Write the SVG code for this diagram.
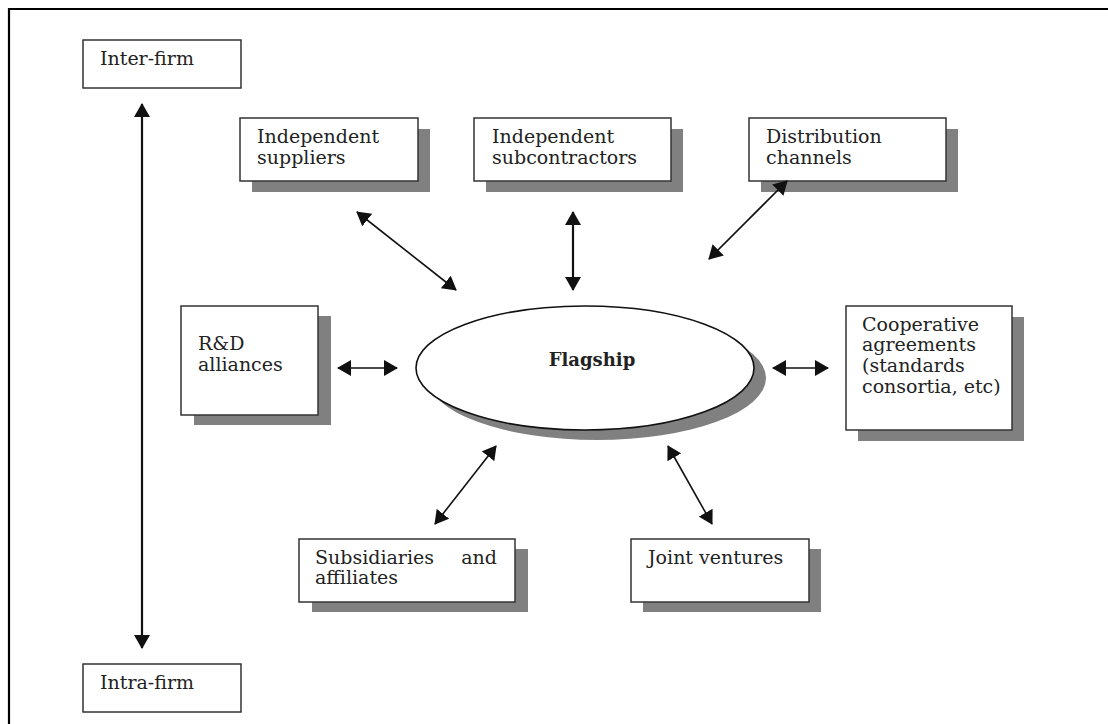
<svg xmlns="http://www.w3.org/2000/svg" width="1108" height="724" viewBox="0 0 1108 724">
<style>
.box{fill:#fff;stroke:#333;stroke-width:1.5}
.sh{fill:#808080}
.t{font-family:"DejaVu Serif","Liberation Serif",serif;font-size:19px;fill:#222}
.b{font-family:"DejaVu Serif","Liberation Serif",serif;font-size:18px;font-weight:bold;fill:#222}
.c{stroke:#111;stroke-width:1.6;fill:none;marker-start:url(#ah);marker-end:url(#ah)}
.cv{stroke:#111;stroke-width:2.2;fill:none;marker-start:url(#ah);marker-end:url(#ah)}
</style>
<defs>
<marker id="ah" viewBox="0 0 14 16" refX="13" refY="8" markerWidth="14" markerHeight="16" markerUnits="userSpaceOnUse" orient="auto-start-reverse">
<path d="M0,0 L14,8 L0,16 Z" fill="#111"/>
</marker>
</defs>
<rect width="1108" height="724" fill="#fff"/>
<path d="M9,724 V9 H1108" fill="none" stroke="#000" stroke-width="2.2"/>

<g id="inter-firm">
<rect class="box" x="83" y="40" width="158" height="48"/>
<text class="t" x="100" y="65">Inter-firm</text>
</g>
<g id="intra-firm">
<rect class="box" x="83" y="664" width="158" height="48"/>
<text class="t" x="100" y="689">Intra-firm</text>
</g>

<g id="suppliers">
<rect class="sh" x="252" y="129" width="178" height="63"/>
<rect class="box" x="240" y="118" width="178" height="63"/>
<text class="t" x="257" y="143">Independent</text>
<text class="t" x="257" y="164">suppliers</text>
</g>
<g id="subcontractors">
<rect class="sh" x="486" y="129" width="197" height="63"/>
<rect class="box" x="474" y="118" width="197" height="63"/>
<text class="t" x="492" y="143">Independent</text>
<text class="t" x="492" y="164">subcontractors</text>
</g>
<g id="distribution">
<rect class="sh" x="761" y="129" width="197" height="63"/>
<rect class="box" x="749" y="118" width="197" height="63"/>
<text class="t" x="766" y="143">Distribution</text>
<text class="t" x="766" y="164">channels</text>
</g>
<g id="rd">
<rect class="sh" x="194" y="316" width="137" height="109"/>
<rect class="box" x="181" y="306" width="137" height="109"/>
<text class="t" x="198" y="350">R&amp;D</text>
<text class="t" x="198" y="371">alliances</text>
</g>
<g id="flagship">
<ellipse class="sh" cx="597" cy="378" rx="169" ry="62"/>
<ellipse cx="585" cy="368" rx="169" ry="62" fill="#fff" stroke="#111" stroke-width="1.6"/>
<text class="b" x="592" y="366" text-anchor="middle">Flagship</text>
</g>
<g id="cooperative">
<rect class="sh" x="858" y="317" width="166" height="124"/>
<rect class="box" x="846" y="306" width="166" height="124"/>
<text class="t" x="862" y="331">Cooperative</text>
<text class="t" x="862" y="351">agreements</text>
<text class="t" x="862" y="372">(standards</text>
<text class="t" x="862" y="393">consortia, etc)</text>
</g>
<g id="subsidiaries">
<rect class="sh" x="312" y="549" width="216" height="63"/>
<rect class="box" x="299" y="539" width="216" height="63"/>
<text class="t" x="315" y="564">Subsidiaries</text>
<text class="t" x="497" y="564" text-anchor="end">and</text>
<text class="t" x="315" y="584">affiliates</text>
</g>
<g id="joint">
<rect class="sh" x="643" y="549" width="178" height="63"/>
<rect class="box" x="631" y="539" width="178" height="63"/>
<text class="t" x="648" y="564">Joint ventures</text>
</g>

<g id="connectors">
<line class="cv" x1="142" y1="104" x2="142" y2="648"/>
<line class="c" x1="357" y1="212" x2="456" y2="290"/>
<line class="cv" x1="573" y1="212" x2="573" y2="290"/>
<line class="c" x1="787" y1="181" x2="709" y2="259"/>
<line class="c" x1="338" y1="368" x2="397" y2="368"/>
<line class="c" x1="773" y1="368" x2="828" y2="368"/>
<line class="c" x1="496" y1="446" x2="435" y2="524"/>
<line class="c" x1="668" y1="446" x2="712" y2="524"/>
</g>
</svg>
